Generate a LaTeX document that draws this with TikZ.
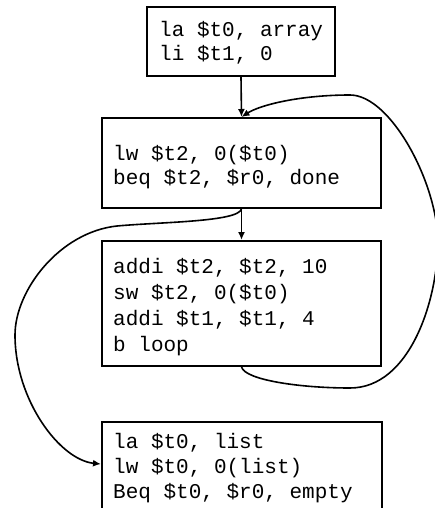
\documentclass[tikz,border=0pt]{standalone}
\usepackage{fontspec}
\newfontfamily\codefont{Liberation Mono}
\usetikzlibrary{arrows.meta}
\tikzset{
  blk/.style={draw, line width=2pt, rectangle, inner sep=0pt},
  codeline/.style={anchor=base west, inner sep=0pt, font=\codefont\fontsize{21}{25}\selectfont},
  arr/.style={line width=1.6pt, -{Latex[length=8pt,width=7pt]}},
}
\begin{document}
\begin{tikzpicture}[x=1pt, y=-1pt]
  \fill[white] (0,0) rectangle (435,508);
  \useasboundingbox (0,0) rectangle (435,508);

  % basic blocks
  \node[blk, minimum width=188pt, minimum height=69pt]  (b1) at (241,41.5) {};
  \node[blk, minimum width=279pt, minimum height=90pt]  (b2) at (241.5,163) {};
  \node[blk, minimum width=279pt, minimum height=125pt] (b3) at (241.5,303.5) {};
  \node[blk, minimum width=280pt, minimum height=108pt] (b4) at (242,476) {};

  % code of each block
  \node[codeline] (l11) at (159,37) {la \$t0, array};
  \node[codeline] (l12) at (159,61) {li \$t1, 0};

  \node[codeline] (l21) at (113,160) {lw \$t2, 0(\$t0)};
  \node[codeline] (l22) at (113,184) {beq \$t2, \$r0, done};

  \node[codeline] (l31) at (113,273) {addi \$t2, \$t2, 10};
  \node[codeline] (l32) at (113,299) {sw \$t2, 0(\$t0)};
  \node[codeline] (l33) at (113,325) {addi \$t1, \$t1, 4};
  \node[codeline] (l34) at (113,351) {b loop};

  \node[codeline] (l41) at (113,448) {la \$t0, list};
  \node[codeline] (l42) at (113,473) {lw \$t0, 0(list)};
  \node[codeline] (l43) at (113,498) {Beq \$t0, \$r0, empty};

  % fall-through edges
  \draw[arr] (b1.south) -- (b2.north);
  \draw[arr] (b2.south) -- (b3.north);

  % branch to done
  \draw[arr] (b2.south)
      .. controls (238,222) and (160,222) .. (117,226)
      .. controls (60,232) and (15,290) .. (15,335)
      .. controls (15,400) and (60,460) .. ([yshift=-43pt]b4.north west);

  % loop back edge
  \draw[arr] (b3.south)
      .. controls (245,380) and (300,388) .. (350,388)
      .. controls (410,388) and (438,300) .. (438,240)
      .. controls (436,180) and (390,95) .. (350,95)
      .. controls (300,95) and (260,105) .. (b2.north);
\end{tikzpicture}
\end{document}
